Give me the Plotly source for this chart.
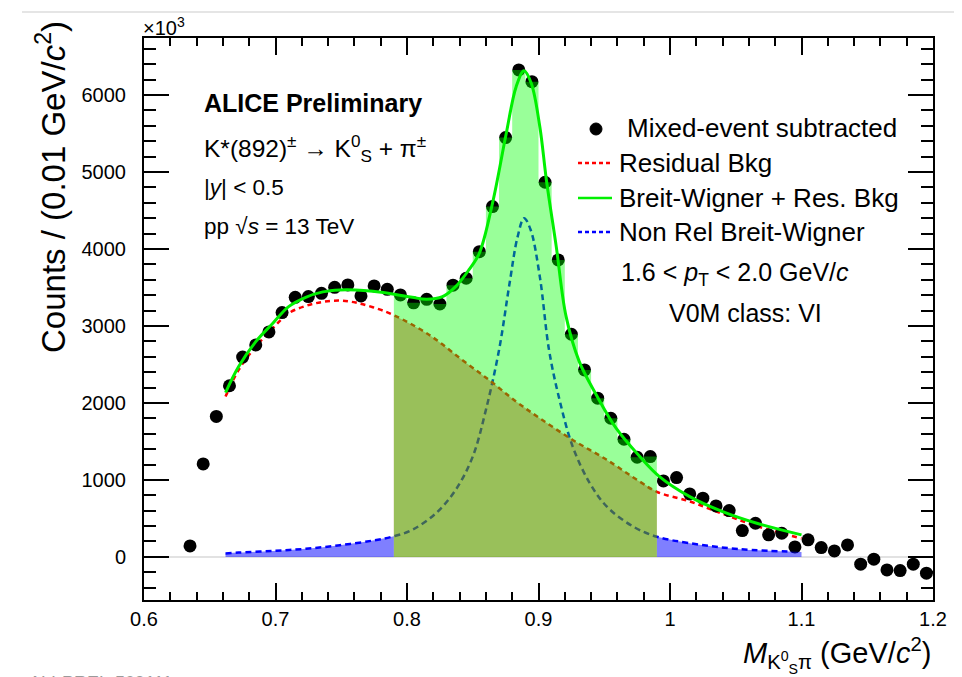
import plotly.graph_objects as go

# ---------------- data ----------------
mass_centers = [0.635, 0.645, 0.655, 0.665, 0.675, 0.685, 0.695, 0.705, 0.715, 0.725,
                0.735, 0.745, 0.755, 0.765, 0.775, 0.785, 0.795, 0.805, 0.815, 0.825,
                0.835, 0.845, 0.855, 0.865, 0.875, 0.885, 0.895, 0.905, 0.915, 0.925,
                0.935, 0.945, 0.955, 0.965, 0.975, 0.985, 0.995, 1.005, 1.015, 1.025,
                1.035, 1.045, 1.055, 1.065, 1.075, 1.085, 1.095, 1.105, 1.115, 1.125,
                1.135, 1.145, 1.155, 1.165, 1.175, 1.185, 1.195]
counts = [143, 1208, 1825, 2223, 2595, 2753, 2922, 3173, 3372, 3381,
          3424, 3502, 3532, 3390, 3519, 3476, 3403, 3300, 3345, 3285,
          3530, 3619, 3965, 4550, 5446, 6325, 6173, 4866, 3857, 2892,
          2429, 2061, 1801, 1528, 1294, 1303, 987, 1030, 818, 762,
          662, 602, 342, 437, 286, 307, 130, 221, 121, 78,
          156, -95, -30, -169, -178, -95, -212]

# residual background (red dashed)
bkg_x = [0.662, 0.672, 0.685, 0.698, 0.710, 0.723, 0.736, 0.749, 0.761, 0.774,
         0.790, 0.817, 0.842, 0.864, 0.883, 0.901, 0.926, 0.952, 0.977, 0.990,
         1.015, 1.040, 1.066, 1.100]
bkg_y = [2082, 2429, 2732, 2970, 3165, 3260, 3312, 3329, 3303, 3243,
         3140, 2883, 2558, 2277, 2017, 1801, 1519, 1260, 978, 845,
         720, 560, 400, 240]

# Breit-Wigner + residual bkg (green)
fit_x = [0.662, 0.672, 0.685, 0.698, 0.710, 0.723, 0.736, 0.749, 0.761, 0.774,
         0.789, 0.804, 0.815, 0.827, 0.837, 0.847, 0.855, 0.865, 0.8755, 0.883,
         0.889, 0.8945, 0.901, 0.906, 0.9135, 0.921, 0.931, 0.944, 0.959, 0.977,
         0.992, 1.015, 1.040, 1.066, 1.100]
fit_y = [2134, 2472, 2796, 3035, 3251, 3372, 3442, 3468, 3468, 3451,
         3416, 3372, 3346, 3381, 3511, 3727, 3944, 4593, 5502, 6108,
         6316, 6152, 5588, 4896, 4030, 3120, 2536, 2104, 1671, 1303,
         1043, 783, 588, 437, 286]

# non-relativistic Breit-Wigner (blue dashed)
bw_x = [0.662, 0.672, 0.698, 0.723, 0.749, 0.774, 0.790, 0.804, 0.822, 0.837,
        0.850, 0.860, 0.870, 0.878, 0.884, 0.889, 0.894, 0.901, 0.908, 0.916,
        0.926, 0.939, 0.952, 0.972, 0.990, 1.015, 1.053, 1.100]
bw_y = [45, 56, 78, 105, 152, 212, 268, 351, 567, 870,
        1303, 1909, 2688, 3554, 4150, 4400, 4250, 3640, 2688, 2039,
        1433, 957, 653, 394, 262, 178, 100, 65]

signal_lo, signal_hi = 0.79, 0.99
x_tickvals = [0.6, 0.7, 0.8, 0.9, 1.0, 1.1, 1.2]
x_ticktext = ["0.6", "0.7", "0.8", "0.9", "1", "1.1", "1.2"]
y_tickvals = [0, 1000, 2000, 3000, 4000, 5000, 6000]
y_ticktext = ["0", "1000", "2000", "3000", "4000", "5000", "6000"]

FONT = "Liberation Sans, Arial, Helvetica, sans-serif"

fig = go.Figure()

# blue BW line
fig.add_trace(go.Scatter(x=bw_x, y=bw_y, mode="lines", line_shape="spline",
                         line=dict(color="#0000ff", width=2.5, dash="6px,4px"),
                         showlegend=False, hoverinfo="skip"))
# red residual bkg line
fig.add_trace(go.Scatter(x=bkg_x, y=bkg_y, mode="lines", line_shape="spline",
                         line=dict(color="#ff0000", width=2.5, dash="5px,4px"),
                         showlegend=False, hoverinfo="skip"))
# data points
fig.add_trace(go.Scatter(x=mass_centers, y=counts, mode="markers",
                         marker=dict(color="black", size=13),
                         showlegend=False))

# red-ish fill under residual background inside signal window
rf_x = [x for x in bkg_x if signal_lo - 1e-9 <= x <= signal_hi + 1e-9]
rf_y = [y for x, y in zip(bkg_x, bkg_y) if signal_lo - 1e-9 <= x <= signal_hi + 1e-9]
fig.add_trace(go.Scatter(x=rf_x, y=rf_y, mode="lines", line_shape="spline",
                         line=dict(width=0, color="rgba(0,0,0,0)"),
                         fill="tozeroy", fillcolor="rgba(255,0,0,0.41)",
                         showlegend=False, hoverinfo="skip"))

# blue fills under BW outside signal window
bl_x = [x for x in bw_x if x <= signal_lo + 1e-9]
bl_y = [y for x, y in zip(bw_x, bw_y) if x <= signal_lo + 1e-9]
br_x = [x for x in bw_x if x >= signal_hi - 1e-9]
br_y = [y for x, y in zip(bw_x, bw_y) if x >= signal_hi - 1e-9]
for fx, fy in ((bl_x, bl_y), (br_x, br_y)):
    fig.add_trace(go.Scatter(x=fx, y=fy, mode="lines", line_shape="spline",
                             line=dict(width=0, color="rgba(0,0,0,0)"),
                             fill="tozeroy", fillcolor="rgba(0,0,255,0.5)",
                             showlegend=False, hoverinfo="skip"))

# green histogram fill over the signal window
hx, hy = [], []
for c, v in zip(mass_centers, counts):
    if signal_lo < c < signal_hi:
        hx.append(round(c - 0.005, 4))
        hy.append(v)
hx.append(signal_hi)
hy.append(hy[-1])
fig.add_trace(go.Scatter(x=hx, y=hy, mode="lines", line_shape="hv",
                         line=dict(width=0, color="rgba(0,0,0,0)"),
                         fill="tozeroy", fillcolor="rgba(0,255,0,0.4)",
                         showlegend=False, hoverinfo="skip"))

# total fit (green)
fig.add_trace(go.Scatter(x=fit_x, y=fit_y, mode="lines", line_shape="spline",
                         line=dict(color="#00f000", width=3),
                         showlegend=False, hoverinfo="skip"))

# ---------------- layout ----------------
OFF = 8  # page body offset of the figure in the browser window
W, H = 962, 677
PLOT_L, PLOT_R, PLOT_T, PLOT_B = 144, 933, 38, 600   # screen pixels of the frame
L = PLOT_L - OFF
T = PLOT_T - OFF
PW = PLOT_R - PLOT_L
PH = PLOT_B - PLOT_T
R = W - L - PW
B = H - T - PH


def px(xs):
    return (xs - PLOT_L) / PW


def py(ys):
    return (PLOT_B - ys) / PH


fig.update_layout(
    width=W, height=H,
    margin=dict(l=L, r=R, t=T, b=B),
    paper_bgcolor="white", plot_bgcolor="white",
    font=dict(family=FONT, color="black"),
    showlegend=False,
)
fig.update_xaxes(
    range=[0.6, 1.2], tickmode="array", tickvals=x_tickvals, ticktext=x_ticktext,
    ticks="inside", ticklen=17, tickwidth=2, tickcolor="black",
    minor=dict(tickmode="linear", tick0=0.6, dtick=0.02, ticks="inside", ticklen=8,
               tickwidth=2, tickcolor="black"),
    showline=True, linewidth=2, linecolor="black", mirror="allticks",
    showgrid=False, zeroline=False,
    tickfont=dict(size=20, family=FONT), ticklabelstandoff=0,
)
fig.update_yaxes(
    range=[-560, 6740], tickmode="array", tickvals=y_tickvals, ticktext=y_ticktext,
    ticks="inside", ticklen=25, tickwidth=2, tickcolor="black",
    minor=dict(tickmode="linear", tick0=0, dtick=200, ticks="inside", ticklen=12,
               tickwidth=2, tickcolor="black"),
    showline=True, linewidth=2, linecolor="black", mirror="allticks",
    showgrid=False, zeroline=True, zerolinecolor="#e2e2e2", zerolinewidth=2,
    tickfont=dict(size=20, family=FONT), ticklabelstandoff=12,
)

ann = []


def text(xs, ys, s, size, xanchor="left", yanchor="middle", angle=0, color="black"):
    ann.append(dict(x=px(xs), y=py(ys), xref="paper", yref="paper", text=s,
                    showarrow=False, xanchor=xanchor, yanchor=yanchor,
                    textangle=angle, font=dict(size=size, family=FONT, color=color)))


text(141, 27, "×10<sup>3</sup>", 20)
text(51, 19, "Counts / (0.01 GeV/<i>c</i><sup>2</sup>)", 33, xanchor="center", yanchor="top", angle=-90)
text(933, 655, "<i>M</i><sub>K<sup>0</sup><sub>S</sub>π</sub> (GeV/<i>c</i><sup>2</sup>)", 29, xanchor="right")

text(202, 103, "<b>ALICE Preliminary</b>", 25)
text(202, 148, "K*(892)<sup>±</sup> → K<sup>0</sup><sub>S</sub> + π<sup>±</sup>", 24.5)
text(202, 187, "|<i>y</i>| &lt; 0.5", 22.5)
text(202, 227, "pp √<i>s</i> = 13 TeV", 22.5)

text(625, 128, "Mixed-event subtracted", 26)
text(617, 163, "Residual Bkg", 26)
text(617, 198, "Breit-Wigner + Res. Bkg", 26)
text(617, 232, "Non Rel Breit-Wigner", 26)
text(619, 274, "1.6 &lt; <i>p</i><sub>T</sub> &lt; 2.0 GeV/<i>c</i>", 25)
text(667, 313, "V0M class: VI", 25)
text(27, 671, "ALI-PREL-509111", 18, yanchor="top", color="#9a9a9a")

fig.update_layout(annotations=ann)

shapes = []
# top page separator line
shapes.append(dict(type="line", xref="paper", yref="paper", x0=px(22), x1=px(962),
                   y0=py(12), y1=py(12), line=dict(color="#dddddd", width=1.5)))
# legend marker
shapes.append(dict(type="circle", xref="paper", yref="paper", xsizemode="pixel", ysizemode="pixel",
                   xanchor=px(596), yanchor=py(129), x0=-6, x1=6, y0=-6, y1=6,
                   fillcolor="black", line=dict(color="black", width=1)))
# legend line samples
shapes.append(dict(type="line", xref="paper", yref="paper", x0=px(578), x1=px(612),
                   y0=py(163), y1=py(163), line=dict(color="#ff0000", width=2.5, dash="4px,3px")))
shapes.append(dict(type="line", xref="paper", yref="paper", x0=px(578), x1=px(612),
                   y0=py(198), y1=py(198), line=dict(color="#00f000", width=2.5)))
shapes.append(dict(type="line", xref="paper", yref="paper", x0=px(578), x1=px(612),
                   y0=py(232), y1=py(232), line=dict(color="#0000ff", width=2.5, dash="4px,3px")))
fig.update_layout(shapes=shapes)

fig.write_html("out.html")
